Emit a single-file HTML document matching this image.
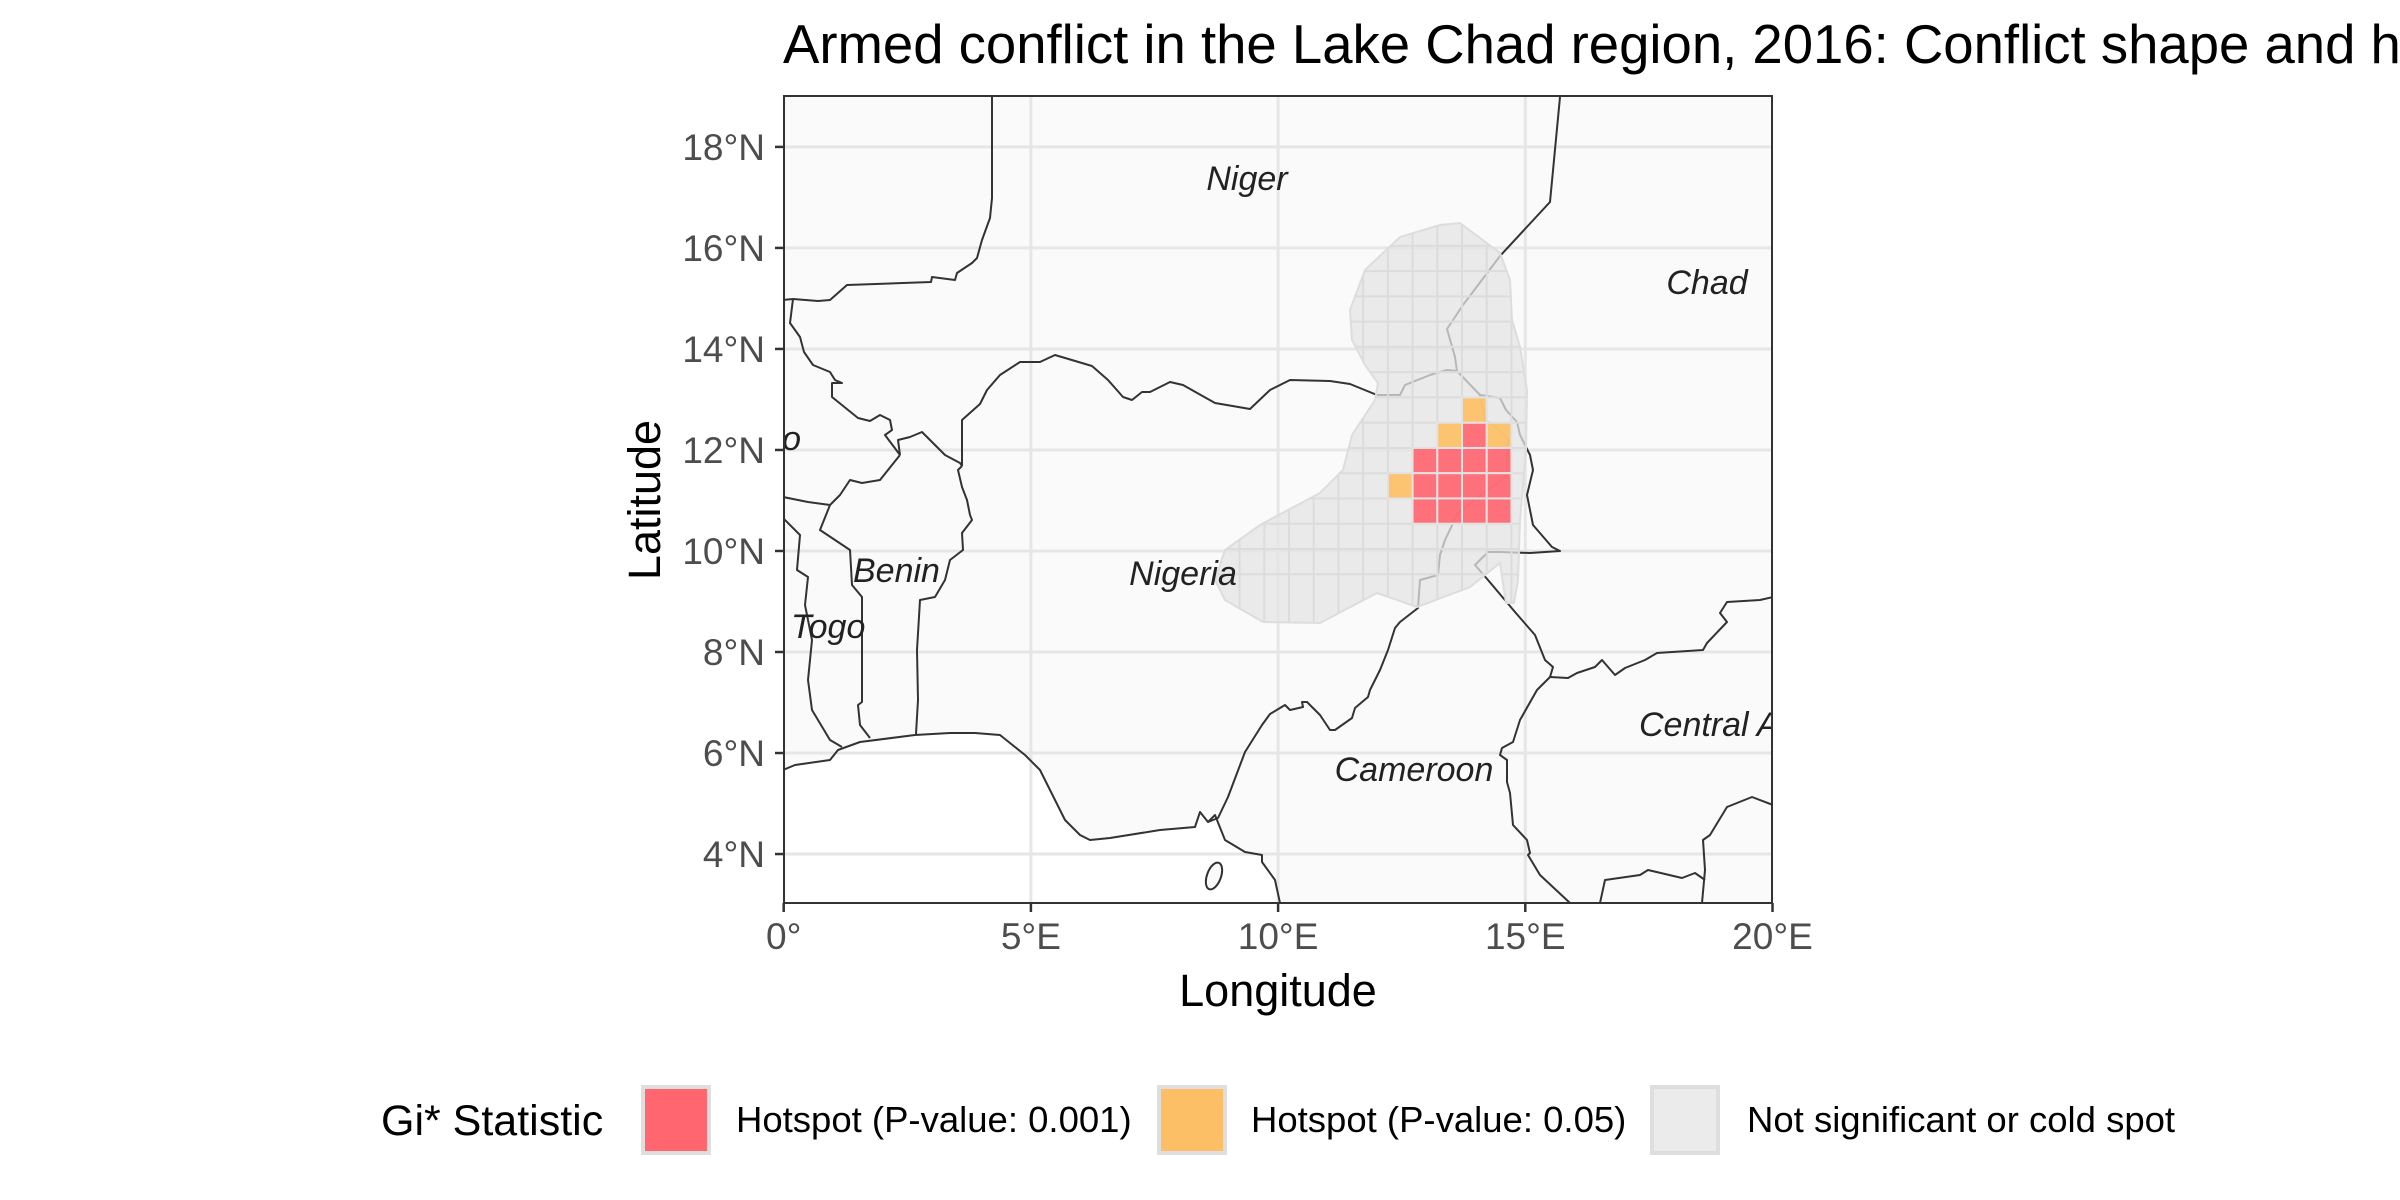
<!DOCTYPE html>
<html><head><meta charset="utf-8"><style>
html,body{margin:0;padding:0;background:#fff;}
svg{display:block;font-family:"Liberation Sans",Arial,sans-serif;}
</style></head><body>
<svg id="chart" width="2400" height="1200" viewBox="0 0 2400 1200" xmlns="http://www.w3.org/2000/svg">
<defs>
<clipPath id="panelClip"><rect x="784" y="96" width="988" height="807"/></clipPath>
<clipPath id="hullClip"><polygon id="hullClipPoly" points=""/></clipPath>
</defs>
<text x="783" y="63" font-size="54.5" fill="#000">Armed conflict in the Lake Chad region, 2016: Conflict shape and hotspots</text>
<g id="panel" clip-path="url(#panelClip)">
<rect x="784" y="96" width="988" height="807" fill="#fafafa"/>
<polygon id="ocean" fill="#ffffff"/>
<g id="gridlines"></g>
<g id="borders"></g>
<g id="hullLayer"></g>
<g id="cells"></g>
<g id="countryLabels" font-style="italic" font-size="34" fill="#222">
<text x="1247" y="190" text-anchor="middle">Niger</text>
<text x="1707" y="294" text-anchor="middle">Chad</text>
<text x="1183" y="585" text-anchor="middle">Nigeria</text>
<text x="853" y="582">Benin</text>
<text x="791" y="638">Togo</text>
<text x="801" y="450" text-anchor="end">Burkina Faso</text>
<text x="1414" y="781" text-anchor="middle">Cameroon</text>
<text x="1639" y="736">Central African Republic</text>
</g>
</g>
<rect x="784" y="96" width="988" height="807" fill="none" stroke="#333" stroke-width="2"/>
<g id="axes"></g>
<text x="1278" y="1006" text-anchor="middle" font-size="45" fill="#000">Longitude</text>
<text transform="translate(660,500) rotate(-90)" text-anchor="middle" font-size="45" fill="#000">Latitude</text>
<g id="legend">
<text x="381" y="1135" font-size="43" fill="#000">Gi* Statistic</text>
<g>
<rect x="643" y="1087" width="66" height="66" fill="#FF6670" stroke="#dedede" stroke-width="4"/>
<text x="736" y="1132" font-size="36.5" fill="#000">Hotspot (P-value: 0.001)</text></g>
<g>
<rect x="1159" y="1087" width="66" height="66" fill="#FDBF66" stroke="#dedede" stroke-width="4"/>
<text x="1251" y="1132" font-size="36.5" fill="#000">Hotspot (P-value: 0.05)</text></g>
<g>
<rect x="1652" y="1087" width="66" height="66" fill="#ebebeb" stroke="#dedede" stroke-width="4"/>
<text x="1747" y="1132" font-size="36.5" fill="#000">Not significant or cold spot</text></g>
</g>
</svg>
<script>
// ---- data ----
const xTickValues = [0, 5, 10, 15, 20];
const xTickLabels = ["0°", "5°E", "10°E", "15°E", "20°E"];
const yTickValues = [4, 6, 8, 10, 12, 14, 16, 18];
const yTickLabels = ["4°N", "6°N", "8°N", "10°N", "12°N", "14°N", "16°N", "18°N"];
// hotspot cells: lower-left corner lon / lat, 0.5° cells
const cellLon = [12.72, 13.22, 13.72, 14.22, 12.72, 13.22, 13.72, 14.22, 12.72, 13.22, 13.72, 14.22, 13.72, 13.22, 14.22, 13.72, 12.22];
const cellLat = [11.54, 11.54, 11.54, 11.54, 11.04, 11.04, 11.04, 11.04, 10.54, 10.54, 10.54, 10.54, 12.04, 12.04, 12.04, 12.54, 11.04];
const cellClass = ["p001","p001","p001","p001","p001","p001","p001","p001","p001","p001","p001","p001","p001","p05","p05","p05","p05"];
const cellSize = 0.5;

// ---- scales ----
const X0 = 783.7, PXLON = 49.44, Y18 = 146.9, PXLAT = 50.51;
function xs(lon){ return X0 + lon * PXLON; }
function ys(lat){ return Y18 + (18 - lat) * PXLAT; }
const NS = "http://www.w3.org/2000/svg";
function mk(tag, attrs, parent){ const e = document.createElementNS(NS, tag); for (const k in attrs) e.setAttribute(k, attrs[k]); parent.appendChild(e); return e; }
const pts = a => a.map(p => p.join(",")).join(" ");

// ---- map geometry (pixel outlines) ----
const coast = [[783,770],[795,765],[830,760],[838,750],[860,742],[915,735],[950,733],[975,733],[1000,735],[1025,755],[1040,770],[1050,790],[1055,800],[1065,820],[1080,835],[1090,840],[1110,838],[1160,830],[1195,827],[1200,812],[1208,822],[1215,815],[1225,840],[1245,852],[1262,855],[1262,862],[1275,880],[1280,903]];
const ocean = document.getElementById("ocean");
ocean.setAttribute("points", pts(coast.concat([[783,903]])));

const borders = [
 [[992,97],[992,198],[990,218],[982,240],[977,258],[972,263],[957,273],[955,280],[932,277],[931,282],[847,285],[830,300],[818,301],[793,299],[783,300]],
 [[793,299],[790,323],[800,337],[804,352],[813,365],[830,372],[835,380],[842,383],[832,383],[832,397],[858,418],[870,421],[880,415],[890,420],[892,430],[885,435],[900,455]],
 [[900,455],[898,440],[910,437],[922,432],[945,455],[960,463],[962,466]],
 [[962,466],[962,420],[980,404],[987,390],[1000,375],[1020,362],[1040,362],[1055,355],[1092,366],[1108,380],[1123,397],[1132,400],[1142,392],[1150,392],[1170,382],[1183,385],[1215,403],[1250,409],[1270,390],[1290,380],[1330,381],[1350,384],[1377,395],[1386,395],[1400,395],[1405,385],[1430,375],[1447,370],[1457,371]],
 [[1560,97],[1550,202],[1500,256],[1463,305],[1447,329],[1455,357],[1457,371]],
 [[1457,371],[1480,395],[1500,398],[1506,410],[1517,422],[1520,435],[1530,455],[1533,470],[1527,495],[1533,525],[1552,547],[1560,551],[1530,553],[1500,552],[1488,552],[1475,565],[1488,580],[1515,612],[1535,635],[1545,660],[1553,667],[1550,677]],
 [[1480,395],[1485,420],[1497,428],[1508,440],[1507,475],[1495,485],[1480,495],[1458,513],[1445,540],[1440,555],[1438,575],[1420,580],[1418,608],[1400,622],[1395,628],[1388,650],[1380,670],[1370,690],[1368,697],[1355,708],[1352,718],[1335,730],[1330,730],[1320,715],[1307,702],[1302,702],[1303,707],[1290,710],[1285,705],[1270,714],[1262,725],[1245,752],[1228,797],[1218,818],[1208,822]],
 [[1550,677],[1537,690],[1520,720],[1513,742],[1502,748],[1500,755],[1507,760],[1507,782],[1510,793],[1513,825],[1527,840],[1530,853],[1528,855],[1540,875],[1570,903]],
 [[1550,677],[1568,678],[1577,673],[1595,667],[1602,660],[1615,675],[1625,668],[1645,660],[1657,653],[1703,650],[1707,643],[1727,622],[1720,613],[1727,602],[1760,600],[1773,597]],
 [[1773,805],[1752,797],[1727,807],[1710,835],[1703,840],[1705,870],[1702,903]],
 [[1600,903],[1605,880],[1640,875],[1648,870],[1682,878],[1695,873],[1705,880]],
 [[962,466],[958,470],[962,487],[967,500],[970,515],[972,520],[962,533],[963,550],[950,560],[945,580],[935,597],[920,600],[917,650],[918,700],[916,734]],
 [[900,455],[880,480],[862,483],[850,480],[840,495],[830,505],[808,502],[783,497]],
 [[830,505],[820,530],[850,550],[852,585],[862,597],[862,702],[858,705],[860,725],[870,738]],
 [[783,518],[800,535],[797,570],[808,577],[805,605],[812,640],[808,680],[812,710],[830,740],[842,747]],
 coast
];
const bg = document.getElementById("borders");
borders.forEach((b, i) => {
  const pl = mk("polyline", {points: pts(b), fill: "none", stroke: "#333", "stroke-width": 2, "stroke-linejoin": "round"}, bg);
  
  
});
const island = mk("ellipse", {cx: 1214, cy: 876, rx: 7, ry: 14, transform: "rotate(20 1214 876)", fill: "#fafafa", stroke: "#333", "stroke-width": 2}, bg);



// ---- gridlines ----
const gg = document.getElementById("gridlines");
xTickValues.forEach(v => {
  const l = mk("line", {x1: xs(v), x2: xs(v), y1: 96, y2: 903, stroke: "#e6e6e6", "stroke-width": 3}, gg);
  
  
});
yTickValues.forEach(v => {
  const l = mk("line", {x1: 784, x2: 1772, y1: ys(v), y2: ys(v), stroke: "#e6e6e6", "stroke-width": 3}, gg);
  
  
});

// ---- hull (conflict shape) ----
const hull = [[1460,223],[1500,253],[1510,280],[1512,320],[1520,347],[1527,390],[1526,450],[1520,520],[1518,580],[1514,603],[1506,603],[1500,563],[1470,587],[1417,607],[1377,593],[1320,623],[1263,622],[1225,600],[1215,580],[1225,550],[1260,525],[1320,493],[1343,470],[1352,435],[1375,400],[1378,383],[1365,365],[1352,340],[1350,310],[1365,270],[1400,237],[1440,225]];
document.getElementById("hullClipPoly").setAttribute("points", pts(hull));
const hl = document.getElementById("hullLayer");
const hp = mk("polygon", {points: pts(hull), fill: "#e4e4e4", "fill-opacity": 0.75, stroke: "#dddddd", "stroke-width": 2}, hl);


const cg = mk("g", {"clip-path": "url(#hullClip)", stroke: "#dcdcdc", "stroke-width": 2}, hl);


for (let k = -12; k <= 6; k++) {
  const l = mk("line", {x1: xs(12.72 + k*cellSize), x2: xs(12.72 + k*cellSize), y1: 200, y2: 640}, cg);
  
  
}
for (let k = -5; k <= 8; k++) {
  const l = mk("line", {x1: 1200, x2: 1540, y1: ys(12.04 + k*cellSize), y2: ys(12.04 + k*cellSize)}, cg);
  
  
}

// ---- hotspot cells ----
const cells = document.getElementById("cells");
const fills = {p001: "#FF6670", p05: "#FDBF66"};
cellLon.forEach((lon, i) => {
  const lat = cellLat[i];
  const x1 = xs(lon), x2 = xs(lon + cellSize), y1 = ys(lat + cellSize), y2 = ys(lat);
  const r = mk("rect", {x: x1, y: y1, width: x2 - x1, height: y2 - y1, fill: fills[cellClass[i]], "fill-opacity": 0.92, stroke: "#e2e2e2", "stroke-width": 2}, cells);
  
  
});

// ---- axes ----
const ax = document.getElementById("axes");
xTickValues.forEach((v, i) => {
  const t = mk("line", {x1: xs(v), x2: xs(v), y1: 903, y2: 912, stroke: "#333", "stroke-width": 2.5}, ax);
  
  
  const tx = mk("text", {x: xs(v), y: 949, "text-anchor": "middle", "font-size": 37, fill: "#4d4d4d"}, ax);
  tx.textContent = xTickLabels[i];
  
  
});
yTickValues.forEach((v, i) => {
  const t = mk("line", {x1: 775, x2: 784, y1: ys(v), y2: ys(v), stroke: "#333", "stroke-width": 2.5}, ax);
  
  
  const tx = mk("text", {x: 765, y: ys(v) + 13, "text-anchor": "end", "font-size": 37, fill: "#4d4d4d"}, ax);
  tx.textContent = yTickLabels[i];
  
  
});
</script>
</body></html>
